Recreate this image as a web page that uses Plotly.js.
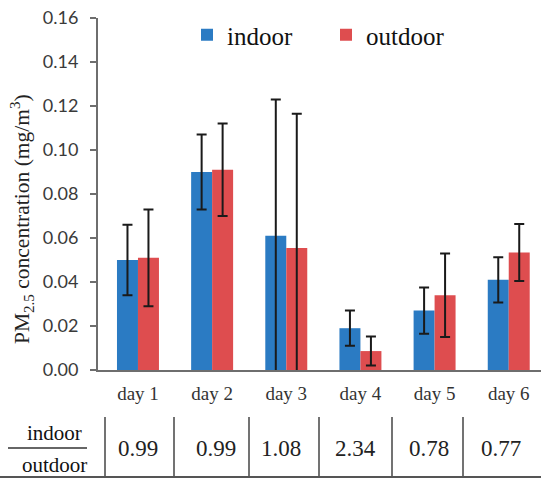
<!DOCTYPE html>
<html>
<head>
<meta charset="utf-8">
<script src="https://cdn.plot.ly/plotly-3.0.1.min.js"></script>
<style>html,body{margin:0;padding:0;background:#fff;}#chart{width:541px;height:479px;}</style>
</head>
<body>
<div id="chart"></div>
<script>
// ---- data ----
const categories = ['day 1', 'day 2', 'day 3', 'day 4', 'day 5', 'day 6'];
const indoor = [0.050, 0.090, 0.061, 0.019, 0.027, 0.041];
const indoorErr = [0.016, 0.017, 0.062, 0.008, 0.0105, 0.0103];
const outdoor = [0.051, 0.091, 0.0555, 0.0086, 0.034, 0.0534];
const outdoorErr = [0.022, 0.021, 0.061, 0.0066, 0.019, 0.013];
const ratioLabels = ['0.99', '0.99', '1.08', '2.34', '0.78', '0.77'];
const yTickVals = [0, 0.02, 0.04, 0.06, 0.08, 0.10, 0.12, 0.14, 0.16];

// ---- layout helpers (pixel -> paper) ----
const W = 541, H = 479;
const M = {l: 98, r: 0, t: 18, b: 109};
const PW = W - M.l - M.r, PH = H - M.t - M.b;
const px = x => (x - M.l) / PW;
const py = y => (H - M.b - y) / PH;

const serif = 'Liberation Serif';
const blue = '#2b7bc3';
const red = '#de4d4f';

const errStyle = {type: 'data', visible: true, thickness: 2, width: 5, color: '#1a1a1a'};

const traces = [
  {type: 'bar', name: 'indoor', x: categories, y: indoor,
   marker: {color: blue, line: {width: 0}},
   error_y: Object.assign({array: indoorErr, symmetric: true}, errStyle),
   legend: 'legend'},
  {type: 'bar', name: 'outdoor', x: categories, y: outdoor,
   marker: {color: red, line: {width: 0}},
   error_y: Object.assign({array: outdoorErr, symmetric: true}, errStyle),
   legend: 'legend2'}
];

// table geometry
const dividerX = [105, 174, 249, 319, 392, 463];
const valueX = [138, 216, 281, 355, 429, 501];

const shapes = [];
dividerX.forEach(x => shapes.push({type: 'line', xref: 'paper', yref: 'paper',
  x0: px(x), x1: px(x), y0: py(417), y1: py(477), line: {color: '#444', width: 1.5}}));
shapes.push({type: 'line', xref: 'paper', yref: 'paper', x0: px(0), x1: px(541),
  y0: py(477), y1: py(477), line: {color: '#555', width: 2}});
shapes.push({type: 'line', xref: 'paper', yref: 'paper', x0: px(8), x1: px(87),
  y0: py(448), y1: py(448), line: {color: '#333', width: 1.5}});

const annotations = [];
annotations.push({xref: 'paper', yref: 'paper', x: px(54), y: py(433), text: 'indoor',
  showarrow: false, xanchor: 'center', yanchor: 'middle', font: {family: serif, size: 21, color: '#111'}});
annotations.push({xref: 'paper', yref: 'paper', x: px(54), y: py(465), text: 'outdoor',
  showarrow: false, xanchor: 'center', yanchor: 'middle', font: {family: serif, size: 21, color: '#111'}});
ratioLabels.forEach((t, i) => annotations.push({xref: 'paper', yref: 'paper', x: px(valueX[i]), y: py(448),
  text: t, showarrow: false, xanchor: 'center', yanchor: 'middle', font: {family: serif, size: 23, color: '#222'}}));
// y axis title
annotations.push({xref: 'paper', yref: 'paper', x: px(22), y: py(219), textangle: -90,
  text: 'PM<sub>2.5</sub> concentration (mg/m<sup>3</sup>)', showarrow: false,
  xanchor: 'center', yanchor: 'middle', font: {family: serif, size: 21.5, color: '#222'}});

const layout = {
  width: W, height: H,
  margin: M,
  paper_bgcolor: '#fff', plot_bgcolor: '#fff',
  barmode: 'group', bargap: 0.434, bargroupgap: 0,
  font: {family: serif, color: '#222'},
  xaxis: {
    type: 'category', range: [-0.539, 5.435],
    showline: true, linecolor: '#6e6e6e', linewidth: 2,
    ticks: '', showgrid: false, zeroline: false,
    tickfont: {family: serif, size: 19, color: '#333'},
    ticklabelstandoff: 5
  },
  yaxis: {
    range: [0, 0.16], tickvals: yTickVals, tickformat: '.2f',
    showline: true, linecolor: '#6e6e6e', linewidth: 2,
    ticks: 'outside', ticklen: 6, tickwidth: 1.5, tickcolor: '#6e6e6e',
    showgrid: false, zeroline: false,
    tickfont: {family: 'Lato', size: 18, color: '#3a3a3a'},
    ticklabelstandoff: 8
  },
  showlegend: true,
  legend: {orientation: 'h', x: px(187), y: py(35), xanchor: 'left', yanchor: 'middle',
    bgcolor: 'rgba(0,0,0,0)', borderwidth: 0, font: {family: serif, size: 25, color: '#111'}},
  legend2: {orientation: 'h', x: px(326), y: py(35), xanchor: 'left', yanchor: 'middle',
    bgcolor: 'rgba(0,0,0,0)', borderwidth: 0, font: {family: serif, size: 25, color: '#111'}},
  shapes: shapes,
  annotations: annotations
};

Plotly.newPlot('chart', traces, layout, {displayModeBar: false, staticPlot: true});
</script>
</body>
</html>
